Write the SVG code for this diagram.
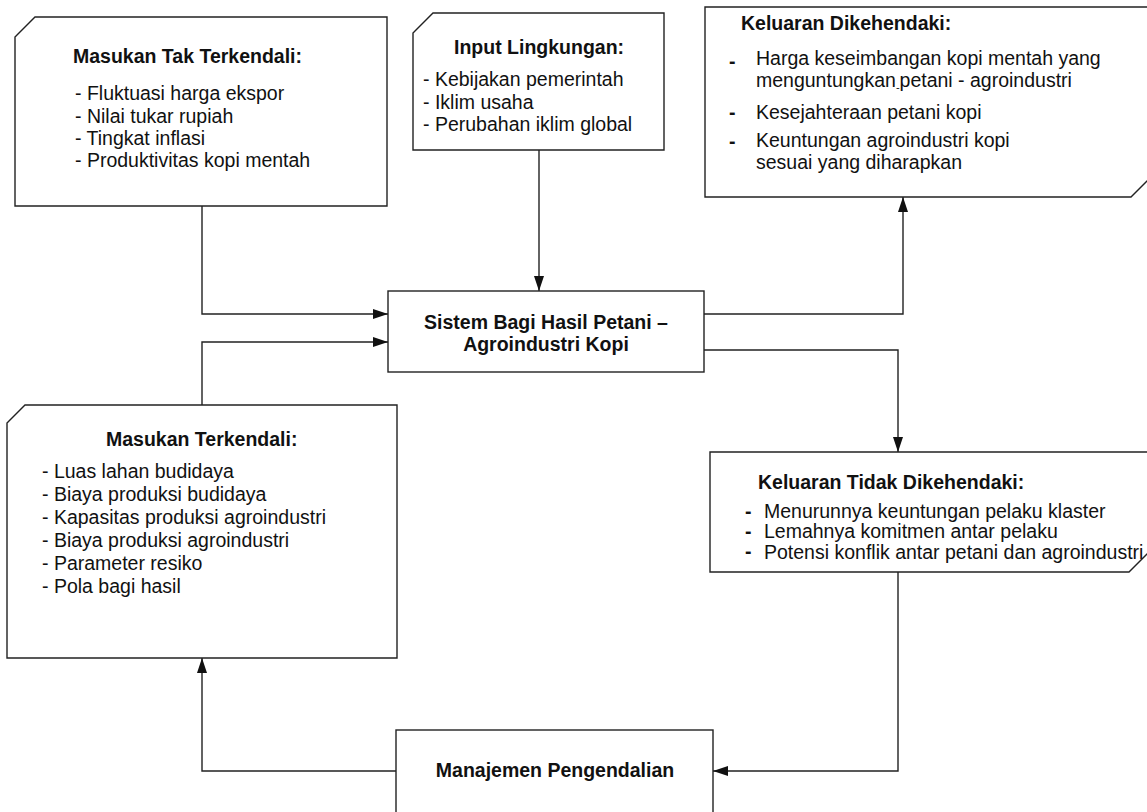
<svg xmlns="http://www.w3.org/2000/svg" width="1147" height="812" viewBox="0 0 1147 812">
<defs>
<style>
.box{fill:#fff;stroke:#222;stroke-width:1.4}
.t{font-family:"Liberation Sans",Arial,sans-serif;font-size:19.5px;fill:#111}
.b{font-weight:bold}
.c{text-anchor:middle}
.con{fill:none;stroke:#222;stroke-width:1.4}
</style>
<marker id="arr" viewBox="0 0 15 10" refX="15" refY="5" markerWidth="15" markerHeight="10" markerUnits="userSpaceOnUse" orient="auto">
<path d="M0,0 L15,5 L0,10 z" fill="#111"/>
</marker>
</defs>
<rect width="1147" height="812" fill="#fff"/>

<g id="connectors">
<path class="con" d="M202,206 V314 H388" marker-end="url(#arr)"/>
<path class="con" d="M202,405 V342 H388" marker-end="url(#arr)"/>
<path class="con" d="M539,150 V291" marker-end="url(#arr)"/>
<path class="con" d="M704,314 H903 V197" marker-end="url(#arr)"/>
<path class="con" d="M704,350 H898 V452" marker-end="url(#arr)"/>
<path class="con" d="M898,572 V771 H713" marker-end="url(#arr)"/>
<path class="con" d="M396,771 H202 V658" marker-end="url(#arr)"/>
</g>

<g id="masukan-tak-terkendali">
<path class="box" d="M15,37 L35,17 H387 V206 H15 Z"/>
<text class="t b" x="73" y="63">Masukan Tak Terkendali:</text>
<text class="t" x="75" y="100">- Fluktuasi harga ekspor</text>
<text class="t" x="75" y="122.5">- Nilai tukar rupiah</text>
<text class="t" x="75" y="145">- Tingkat inflasi</text>
<text class="t" x="75" y="167">- Produktivitas kopi mentah</text>
</g>

<g id="input-lingkungan">
<path class="box" d="M413,33 L433,13 H664 V150 H413 Z"/>
<text class="t b" x="454" y="54">Input Lingkungan:</text>
<text class="t" x="423" y="86">- Kebijakan pemerintah</text>
<text class="t" x="423" y="108.5">- Iklim usaha</text>
<text class="t" x="423" y="131">- Perubahan iklim global</text>
</g>

<g id="keluaran-dikehendaki">
<path class="box" d="M705,7 H1152 V176 L1131,197 H705 Z"/>
<text class="t b" x="741" y="30">Keluaran Dikehendaki:</text>
<text class="t b" x="729" y="68">-</text>
<text class="t" x="756" y="65">Harga keseimbangan kopi mentah yang</text>
<text class="t" x="756" y="87">menguntungkan<tspan font-size="11" dy="4">-</tspan><tspan dy="-4">petani - agroindustri</tspan></text>
<text class="t b" x="729" y="119">-</text>
<text class="t" x="756" y="119">Kesejahteraan petani kopi</text>
<text class="t b" x="729" y="148">-</text>
<text class="t" x="756" y="147">Keuntungan agroindustri kopi</text>
<text class="t" x="756" y="169">sesuai yang diharapkan</text>
</g>

<g id="sistem">
<rect class="box" x="388" y="291" width="316" height="81"/>
<text class="t b c" x="546" y="329">Sistem Bagi Hasil Petani –</text>
<text class="t b c" x="546" y="351">Agroindustri Kopi</text>
</g>

<g id="keluaran-tidak-dikehendaki">
<path class="box" d="M710,452 H1152 V549 L1129,572 H710 Z"/>
<text class="t b" x="758" y="489">Keluaran Tidak Dikehendaki:</text>
<text class="t b" x="745" y="518">-</text>
<text class="t" x="764" y="518">Menurunnya keuntungan pelaku klaster</text>
<text class="t b" x="745" y="538">-</text>
<text class="t" x="764" y="538">Lemahnya komitmen antar pelaku</text>
<text class="t b" x="745" y="558">-</text>
<text class="t" x="764" y="559">Potensi konflik antar petani dan agroindustri</text>
</g>

<g id="masukan-terkendali">
<path class="box" d="M7,423 L25,405 H397 V658 H7 Z"/>
<text class="t b" x="106" y="446">Masukan Terkendali:</text>
<text class="t" x="42" y="478">- Luas lahan budidaya</text>
<text class="t" x="42" y="501">- Biaya produksi budidaya</text>
<text class="t" x="42" y="524">- Kapasitas produksi agroindustri</text>
<text class="t" x="42" y="547">- Biaya produksi agroindustri</text>
<text class="t" x="42" y="570">- Parameter resiko</text>
<text class="t" x="42" y="593">- Pola bagi hasil</text>
</g>

<g id="manajemen">
<rect class="box" x="396" y="730" width="317" height="100"/>
<text class="t b c" x="555" y="777">Manajemen Pengendalian</text>
</g>
</svg>
